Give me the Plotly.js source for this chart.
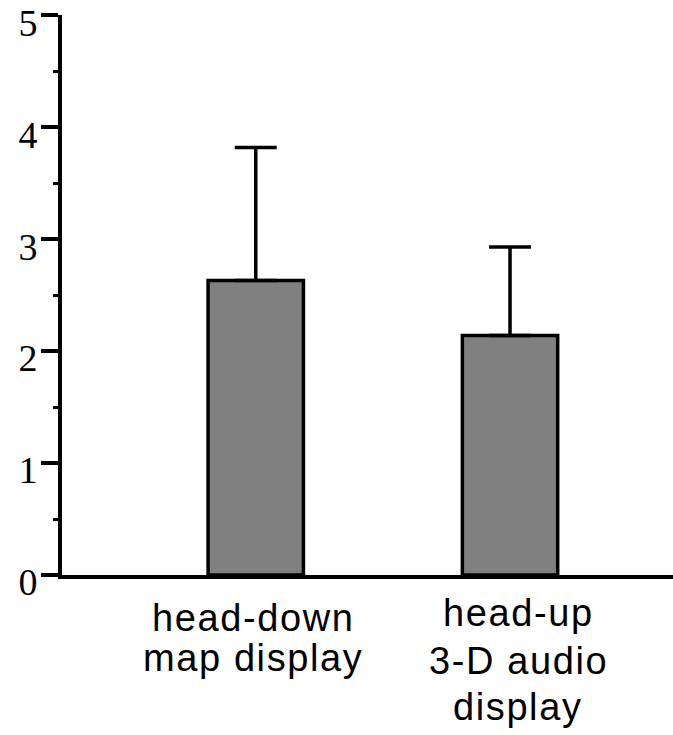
<!DOCTYPE html>
<html>
<head>
<meta charset="utf-8">
<script src="https://cdn.plot.ly/plotly-3.0.1.min.js"></script>
<style>
  html, body { margin: 0; padding: 0; background: #fff; }
  #chart { width: 673px; height: 735px; }
  .annotation-text { letter-spacing: 1.6px; }
</style>
</head>
<body>
<div id="chart"></div>
<script>
// ---- data ----
const categories = ['head-down map display', 'head-up 3-D audio display'];
const labelLines = [['head-down', 'map display'], ['head-up', '3-D audio', 'display']];
const meanValues = [2.63, 2.14];
const errorUp = [1.19, 0.79];
const yTickValues = [0, 1, 2, 3, 4, 5];
const yTickLabels = ['0', '1', '2', '3', '4', '5'];

// ---- layout helpers (pixel placement of the category label lines) ----
const labelXShift = [-3, 8];
const labelYShift = [[-43, -83], [-38, -86, -132]];

const annotations = [];
labelLines.forEach((lines, i) => {
  lines.forEach((txt, j) => {
    annotations.push({
      xref: 'x', yref: 'paper',
      x: categories[i], y: 0,
      xanchor: 'center', yanchor: 'middle',
      xshift: labelXShift[i], yshift: labelYShift[i][j],
      text: txt, showarrow: false,
      font: { family: 'Liberation Sans, Arial, sans-serif', size: 38, color: '#000' }
    });
  });
});

const trace = {
  type: 'bar',
  x: categories,
  y: meanValues,
  width: 0.375,
  marker: { color: '#808080', line: { color: '#000', width: 3.5 } },
  error_y: {
    type: 'data', symmetric: false,
    array: errorUp,
    arrayminus: errorUp.map(() => 0),
    color: '#000', thickness: 3.5, width: 21
  },
  hoverinfo: 'none'
};

const layout = {
  width: 673, height: 735,
  margin: { l: 62, r: 0, t: 15, b: 160, pad: 0 },
  paper_bgcolor: '#fff', plot_bgcolor: '#fff',
  showlegend: false,
  xaxis: {
    type: 'category',
    range: [-0.762, 1.641],
    showline: true, linecolor: '#000', linewidth: 4,
    showticklabels: false, ticks: '', showgrid: false, zeroline: false,
    fixedrange: true
  },
  yaxis: {
    range: [0, 5.003],
    tickvals: yTickValues, ticktext: yTickLabels,
    showline: true, linecolor: '#000', linewidth: 4,
    ticks: 'outside', ticklen: 17, tickwidth: 4, tickcolor: '#000',
    minor: { dtick: 0.5, ticks: 'outside', ticklen: 5, tickwidth: 3, tickcolor: '#000', showgrid: false },
    tickfont: { family: 'Liberation Serif, Times New Roman, serif', size: 38, color: '#000' },
    ticklabelstandoff: -4,
    ticklabelshift: 7,
    ticklabeloverflow: 'allow',
    showgrid: false, zeroline: false,
    fixedrange: true
  },
  annotations: annotations
};

Plotly.newPlot('chart', [trace], layout, { staticPlot: true, displayModeBar: false });
</script>
</body>
</html>
